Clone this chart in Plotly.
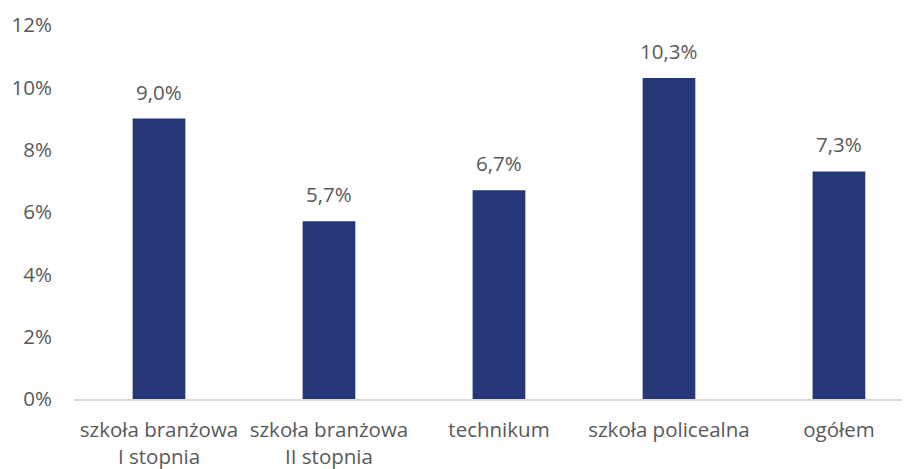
import plotly.graph_objects as go

categories = ["szkoła branżowa<br>I stopnia", "szkoła branżowa<br>II stopnia", "technikum", "szkoła policealna", "ogółem"]
values = [9.0, 5.7, 6.7, 10.3, 7.3]
tick_vals = [0, 2, 4, 6, 8, 10, 12]
tick_text = ["0%", "2%", "4%", "6%", "8%", "10%", "12%"]

FONT = "Open Sans"
GREY = "#595959"
FS = 20.5

fig = go.Figure()
fig.add_trace(go.Bar(
    x=list(range(len(categories))), y=values,
    marker=dict(color="#263778", line=dict(width=0)),
    width=0.31,
    hoverinfo="skip",
))
for i, v in enumerate(values):
    fig.add_annotation(
        x=i, y=v, text=f"{v:.1f}%".replace(".", ","),
        showarrow=False, yanchor="bottom", yshift=11,
        font=dict(family=FONT, size=FS, color=GREY),
    )

fig.update_layout(
    width=902, height=461,
    margin=dict(l=66, r=0, t=17, b=70),
    paper_bgcolor="white", plot_bgcolor="white",
    showlegend=False,
    font=dict(family=FONT, size=FS, color=GREY),
    xaxis=dict(
        range=[-0.5, 4.418],
        tickvals=list(range(len(categories))), ticktext=categories,
        showgrid=False, zeroline=False,
        showline=True, linecolor="#D9D9D9", linewidth=1.5,
        ticks="", ticklabelstandoff=12,
        tickfont=dict(family=FONT, size=FS, color=GREY),
    ),
    yaxis=dict(
        range=[0, 12],
        tickvals=tick_vals, ticktext=tick_text,
        showgrid=False, zeroline=False, showline=False,
        ticks="", ticklabelstandoff=21,
        tickfont=dict(family=FONT, size=FS, color=GREY),
    ),
)

fig.write_html("out.html")
